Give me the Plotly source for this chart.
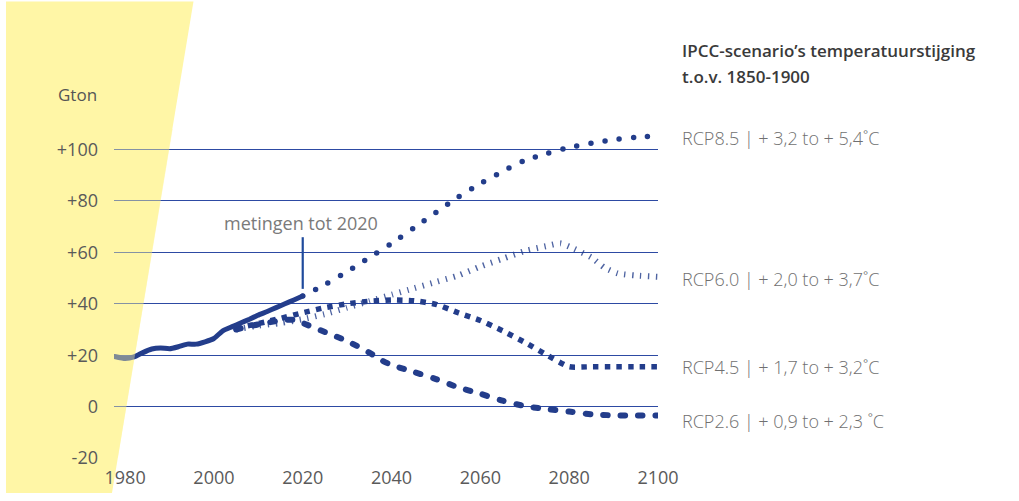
import plotly.graph_objects as go

# ---------------- data ----------------
hist_years = [1977.6, 1980, 1982, 1984, 1986, 1988, 1990, 1992, 1994, 1996, 1998, 2000,
              2002, 2004, 2006, 2008, 2010, 2012, 2014, 2016, 2018, 2020]
hist_vals = [19.5, 18.7, 19.3, 21.0, 22.4, 22.8, 22.5, 23.3, 24.3, 24.3, 25.2, 26.5,
             29.5, 31.0, 32.5, 34.0, 35.6, 37.0, 38.5, 40.0, 41.5, 43.0]

rcp85_years = [2020, 2025, 2030, 2035, 2040, 2045, 2050, 2055, 2060, 2065, 2070, 2075,
               2080, 2085, 2090, 2095, 2100]
rcp85_vals = [43.0, 47.5, 52.5, 58.0, 63.5, 69.5, 75.5, 81.5, 86.8, 91.5, 95.8, 98.5,
              100.8, 102.5, 103.8, 104.8, 105.3]

rcp60_years = [2005, 2010, 2015, 2020, 2025, 2030, 2035, 2040, 2045, 2050, 2055, 2060,
               2065, 2070, 2075, 2078, 2081, 2085, 2088, 2091, 2095, 2100]
rcp60_vals = [30.0, 31.5, 32.5, 34.0, 36.0, 38.5, 41.0, 43.5, 46.0, 48.5, 51.0, 54.5,
              57.5, 60.5, 62.5, 63.5, 61.5, 58.0, 54.0, 51.8, 51.0, 50.5]

rcp45_years = [2005, 2010, 2015, 2020, 2025, 2030, 2035, 2040, 2045, 2050, 2055, 2060,
               2065, 2070, 2075, 2080, 2085, 2090, 2095, 2100]
rcp45_vals = [30.5, 32.3, 34.3, 36.5, 38.5, 40.0, 41.0, 41.5, 41.2, 39.8, 36.5, 33.5,
              29.5, 25.0, 20.0, 15.5, 15.5, 15.5, 15.5, 15.5]

rcp26_years = [2005, 2010, 2015, 2018, 2020, 2025, 2030, 2035, 2038, 2040, 2045, 2050,
               2055, 2060, 2065, 2070, 2075, 2080, 2085, 2090, 2095, 2100]
rcp26_vals = [30.0, 32.0, 33.5, 33.8, 32.5, 29.0, 25.5, 21.0, 17.8, 16.2, 13.5, 10.7,
              7.5, 5.0, 2.3, 0.2, -1.0, -1.9, -3.0, -3.4, -3.5, -3.5]

x_ticks = [1980, 2000, 2020, 2040, 2060, 2080, 2100]
y_ticks = [-20, 0, 20, 40, 60, 80, 100]
y_ticktext = ["-20", "0", "+20", "+40", "+60", "+80", "+100"]

scenario_labels = ["RCP8.5 | + 3,2 to + 5,4˚C", "RCP6.0 | + 2,0 to + 3,7˚C",
                   "RCP4.5 | + 1,7 to + 3,2˚C", "RCP2.6 | + 0,9 to + 2,3 ˚C"]
scenario_label_py = [138, 283, 374, 429]   # label centre rows (pixels)

NAVY = "#233d8b"
GRID = "#2d4aa3"
FONT = "Open Sans"

fig = go.Figure()

fig.add_trace(go.Scatter(x=rcp60_years, y=rcp60_vals, mode="lines", uid="rcp60",
                         line=dict(color="rgba(35,61,139,0.8)", width=6, dash="1.3px,6.7px",
                                   shape="spline", smoothing=0.6)))
fig.add_trace(go.Scatter(x=rcp45_years, y=rcp45_vals, mode="lines", uid="rcp45",
                         line=dict(color=NAVY, width=5.5, dash="5.5px,6.2px",
                                   shape="spline", smoothing=0.5)))
fig.add_trace(go.Scatter(x=rcp26_years, y=rcp26_vals, mode="lines", uid="rcp26",
                         line=dict(color=NAVY, width=6, dash="4.5px,13px",
                                   shape="spline", smoothing=0.6)))
fig.add_trace(go.Scatter(x=rcp85_years, y=rcp85_vals, mode="lines", uid="rcp85",
                         line=dict(color=NAVY, width=5.5, dash="0px,14.3px",
                                   shape="spline", smoothing=0.6)))
fig.add_trace(go.Scatter(x=hist_years, y=hist_vals, mode="lines", uid="hist",
                         line=dict(color=NAVY, width=5, shape="spline", smoothing=0.4)))

# layout geometry (pixels)
L, R, T, B = 114, 658, 129, 467
def px2paper(px, py):
    return (px - L) / (R - L), (B - py) / (B - T)

# yellow band (paper coords, below everything)
pts = [px2paper(6, -2), px2paper(193.5, -2), px2paper(112, 503), px2paper(6, 503)]
path = "M " + " L ".join(f"{x:.4f},{y:.4f}" for x, y in pts) + " Z"
fig.add_shape(type="path", path=path, xref="paper", yref="paper", layer="below",
              fillcolor="#FFF6A6", line=dict(width=0))
# translucent wash of the band over the plot area (clipped to plot area)
def px2data(px, py):
    return 1977.5 + (px - L) / 4.4333, (414 - py) / 2.6406
dpts = [px2data(6, 100), px2data(193.5 - 0.1622 * 100, 100), px2data(112, 503), px2data(6, 503)]
dpath = "M " + " L ".join(f"{x:.3f},{y:.3f}" for x, y in dpts) + " Z"
fig.add_shape(type="path", path=dpath, xref="x", yref="y", layer="above",
              fillcolor="rgba(255,246,166,0.42)", line=dict(width=0))

# measurement marker
fig.add_shape(type="line", x0=2020, x1=2020, y0=45.8, y1=65.9, xref="x", yref="y",
              line=dict(color="#1f4a9c", width=2.2))
fig.add_annotation(x=2019.5, y=71.3, xref="x", yref="y", text="metingen tot 2020",
                   showarrow=False, font=dict(family=FONT, size=18, color="#7a7a7a"),
                   xanchor="center", yanchor="middle")

# Gton label
gx, gy = px2paper(99, 94)
fig.add_annotation(x=gx, y=gy, xref="paper", yref="paper", text="Gton",
                   showarrow=False, font=dict(family=FONT, size=17, color="#555555"),
                   xanchor="right", yanchor="middle")

# Right-hand titles
lx = (680 - L) / (R - L)
fig.add_annotation(x=lx, y=px2paper(0, 48)[1], xref="paper", yref="paper",
                   text="IPCC-scenario’s temperatuurstijging", showarrow=False,
                   font=dict(family=FONT, size=17, color="#3a3a3a", weight=600),
                   xanchor="left", yanchor="middle")
fig.add_annotation(x=lx, y=px2paper(0, 75)[1], xref="paper", yref="paper",
                   text="t.o.v. 1850-1900",
                   showarrow=False, font=dict(family=FONT, size=17, color="#3a3a3a", weight=600),
                   xanchor="left", yanchor="middle")
for txt, py in zip(scenario_labels, scenario_label_py):
    fig.add_annotation(x=lx, y=px2paper(0, py)[1], xref="paper", yref="paper", text=txt,
                       showarrow=False,
                       font=dict(family=FONT, size=18, color="#707070", weight=300),
                       xanchor="left", yanchor="middle")

fig.update_layout(
    width=1019, height=501,
    margin=dict(l=L, r=1019 - R, t=T, b=501 - B, pad=0),
    paper_bgcolor="white", plot_bgcolor="rgba(0,0,0,0)",
    showlegend=False,
    font=dict(family=FONT, size=16, color="#555555"),
    xaxis=dict(range=[1977.5, 2100], tickvals=x_ticks, showgrid=False, zeroline=False,
               showline=False, ticks="", ticklabelstandoff=7,
               tickfont=dict(family=FONT, size=18, color="#5a5a5a"), fixedrange=True),
    yaxis=dict(range=[-20, 108], tickvals=y_ticks, ticktext=y_ticktext, showgrid=True,
               gridcolor=GRID, gridwidth=1, zeroline=True, zerolinecolor=GRID,
               zerolinewidth=1, showline=False, ticks="", ticklabelstandoff=15,
               tickfont=dict(family=FONT, size=18, color="#5a5a5a"), fixedrange=True),
)

post = """
document.documentElement.style.margin = '0';
document.documentElement.style.overflow = 'hidden';
document.body.style.margin = '0';
document.body.style.padding = '0';
document.body.style.overflow = 'hidden';
function rc(){
  document.querySelectorAll('.tracercp85 path.js-line, .tracercp26 path.js-line, .tracehist path.js-line')
    .forEach(function(p){ p.style.strokeLinecap = 'round'; p.style.strokeLinejoin = 'round'; });
}
rc();
var gd = document.getElementById('{plot_id}');
if (gd && gd.on) { gd.on('plotly_afterplot', rc); }
"""

fig.write_html("out.html", post_script=post, config={"displayModeBar": False})
